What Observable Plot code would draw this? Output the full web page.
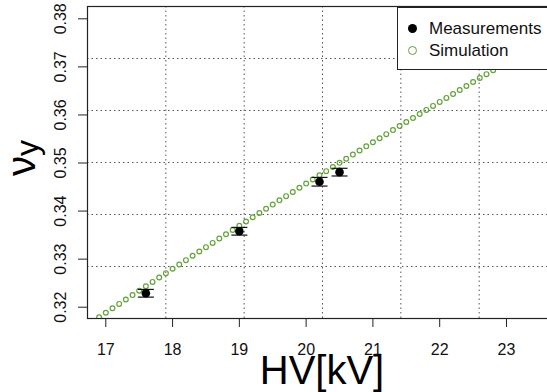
<!DOCTYPE html>
<html>
<head>
<meta charset="utf-8">
<script src="https://cdn.jsdelivr.net/npm/d3@7"></script>
<script src="https://cdn.jsdelivr.net/npm/@observablehq/plot@0.6"></script>
<style>
  html, body { margin: 0; padding: 0; background: white; overflow: hidden; }
  #wrap { position: relative; width: 547px; height: 392px; overflow: hidden; font-family: "Liberation Sans", Arial, sans-serif; }
  #legend { position: absolute; left: 397px; top: 7px; width: 170px; height: 63px; border: 1px solid #222; background: white; box-sizing: border-box; }
  .lrow { position: absolute; left: 0; height: 20px; display: flex; align-items: center; font-size: 17px; color: #111; }
  .sym { position: absolute; left: 10px; width: 9px; height: 9px; border-radius: 50%; box-sizing: border-box; }
  .ltxt { position: absolute; left: 31px; white-space: nowrap; }
</style>
</head>
<body>
<div id="wrap">
  <div id="chart"></div>
  <div id="legend"></div>
</div>
<script>
// ---- data ----
const measHV = [17.6, 19.0, 20.2, 20.5];
const measNu = [0.3229, 0.3358, 0.3461, 0.3481];
const measErr = [0.0008, 0.0008, 0.0009, 0.0008];

const simHV = [16.8, 16.9, 17.0, 17.1, 17.2, 17.3, 17.4, 17.5, 17.6, 17.7,
  17.8, 17.9, 18.0, 18.1, 18.2, 18.3, 18.4, 18.5, 18.6, 18.7,
  18.8, 18.9, 19.0, 19.1, 19.2, 19.3, 19.4, 19.5, 19.6, 19.7,
  19.8, 19.9, 20.0, 20.1, 20.2, 20.3, 20.4, 20.5, 20.6, 20.7,
  20.8, 20.9, 21.0, 21.1, 21.2, 21.3, 21.4, 21.5, 21.6, 21.7,
  21.8, 21.9, 22.0, 22.1, 22.2, 22.3, 22.4, 22.5, 22.6, 22.7,
  22.8, 22.9, 23.0, 23.1, 23.2, 23.3, 23.4, 23.5, 23.6, 23.7, 23.8];
const simNu = [0.31699, 0.31792, 0.31884, 0.31977, 0.32069, 0.32161, 0.32252, 0.32344, 0.32435, 0.32526,
  0.32617, 0.32708, 0.32799, 0.32889, 0.32979, 0.33069, 0.33159, 0.33249, 0.33338, 0.33428,
  0.33517, 0.33606, 0.33694, 0.33783, 0.33871, 0.33959, 0.34047, 0.34135, 0.34223, 0.34310,
  0.34398, 0.34485, 0.34572, 0.34658, 0.34745, 0.34831, 0.34917, 0.35003, 0.35089, 0.35175,
  0.35260, 0.35346, 0.35431, 0.35516, 0.35600, 0.35685, 0.35769, 0.35853, 0.35937, 0.36021,
  0.36105, 0.36188, 0.36271, 0.36354, 0.36437, 0.36520, 0.36602, 0.36685, 0.36767, 0.36849,
  0.36930, 0.37012, 0.37093, 0.37175, 0.37256, 0.37336, 0.37417, 0.37498, 0.37578, 0.37658, 0.37738];

const xTicks = [17, 18, 19, 20, 21, 22, 23];
const yTicks = [0.32, 0.33, 0.34, 0.35, 0.36, 0.37, 0.38];
const yTickLabels = ["0.32", "0.33", "0.34", "0.35", "0.36", "0.37", "0.38"];
const xGrid = [17.899, 19.072, 20.245, 21.418, 22.591];
const yGrid = [0.32847, 0.33929, 0.35011, 0.36092, 0.37174];
const xDomain = [16.726, 23.764];
const yDomain = [0.31765, 0.38256];

const seriesNames = ["Measurements", "Simulation"];
const simColor = "#62a33a";

// ---- tables ----
const meas = measHV.map((x, i) => ({hv: x, nu: measNu[i], err: measErr[i]}));
const sim = simHV.map((x, i) => ({hv: x, nu: simNu[i]}));
const yTickRows = yTicks.map((v, i) => ({v, label: yTickLabels[i]}));

const cap = {draw(ctx) { ctx.moveTo(-8, 0); ctx.lineTo(8, 0); }};

const chart = Plot.plot({
  width: 547,
  height: 392,
  marginLeft: 87,
  marginRight: -10,
  marginTop: 6,
  marginBottom: 74,
  style: {fontFamily: "Liberation Sans, Arial, sans-serif", fontSize: "16px", color: "#111", background: "white"},
  x: {domain: xDomain},
  y: {domain: yDomain},
  marks: [
    Plot.ruleX(xGrid, {stroke: "#555", strokeDasharray: "1.5,3", strokeWidth: 1}),
    Plot.ruleY(yGrid, {stroke: "#555", strokeDasharray: "1.5,3", strokeWidth: 1}),
    Plot.dot(sim, {x: "hv", y: "nu", r: 2.4, stroke: simColor, strokeWidth: 1.2, fill: "none", clip: true}),
    Plot.ruleX(meas, {x: "hv", y1: d => d.nu - d.err, y2: d => d.nu + d.err, stroke: "#111", strokeWidth: 1}),
    Plot.dot(meas, {x: "hv", y: d => d.nu - d.err, symbol: cap, stroke: "#111", strokeWidth: 1.2, fill: "none"}),
    Plot.dot(meas, {x: "hv", y: d => d.nu + d.err, symbol: cap, stroke: "#111", strokeWidth: 1.2, fill: "none"}),
    Plot.dot(meas, {x: "hv", y: "nu", r: 4.3, fill: "#000", stroke: "none"}),
    Plot.axisX({ticks: xTicks, tickSize: 9, tickPadding: 16, tickFormat: d => String(d), label: null, fontSize: 16, stroke: "#222"}),
    Plot.axisY({ticks: yTicks, tickSize: 9, tickFormat: () => "", label: null, stroke: "#222"}),
    Plot.text(yTickRows, {y: "v", text: "label", frameAnchor: "left", textAnchor: "middle", lineAnchor: "middle", dx: -27, rotate: -90, fontSize: 16, fill: "#111"}),
    Plot.frame({stroke: "#222", strokeWidth: 1.2})
  ]
});
document.getElementById("chart").appendChild(chart);

// axis titles as real text
const svg = d3.select(chart);
svg.append("text")
  .attr("x", 322).attr("y", 384)
  .attr("text-anchor", "middle")
  .attr("font-size", 40)
  .attr("font-family", "Liberation Sans, Arial, sans-serif")
  .attr("fill", "#000")
  .text("HV[kV]");
const yl = svg.append("text")
  .attr("transform", "translate(35,158) rotate(-90)")
  .attr("text-anchor", "middle")
  .attr("font-family", "Liberation Sans, Arial, sans-serif")
  .attr("fill", "#000");
yl.append("tspan").attr("font-size", 40).text("ν");
yl.append("tspan").attr("font-size", 32).attr("dy", 3).text("y");

// legend
const legend = document.getElementById("legend");
const lstyles = [
  {top: 11, bg: "#000", border: "none"},
  {top: 33, bg: "white", border: "1.3px solid " + simColor}
];
seriesNames.forEach((name, i) => {
  const row = document.createElement("div");
  row.className = "lrow";
  row.style.top = lstyles[i].top + "px";
  const s = document.createElement("div");
  s.className = "sym";
  s.style.background = lstyles[i].bg;
  s.style.border = lstyles[i].border;
  s.style.top = "5px";
  const t = document.createElement("div");
  t.className = "ltxt";
  t.textContent = name;
  row.appendChild(s);
  row.appendChild(t);
  legend.appendChild(row);
});
</script>
</body>
</html>
